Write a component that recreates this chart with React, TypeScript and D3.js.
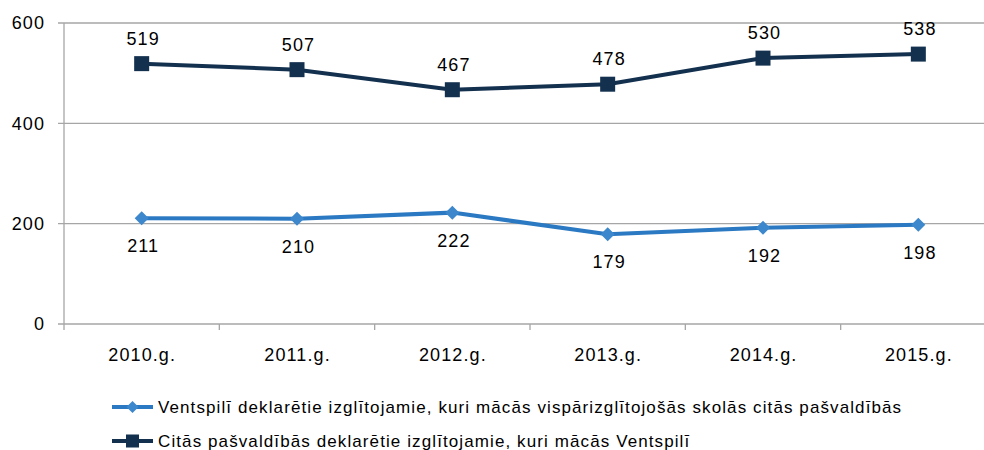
import React from "react";
import * as d3 from "d3";

const categories = ["2010.g.", "2011.g.", "2012.g.", "2013.g.", "2014.g.", "2015.g."];
const seriesNames = [
  "Ventspilī deklarētie izglītojamie, kuri mācās vispārizglītojošās skolās citās pašvaldībās",
  "Citās pašvaldībās deklarētie izglītojamie, kuri mācās Ventspilī",
];
const lightValues = [211, 210, 222, 179, 192, 198];
const darkValues = [519, 507, 467, 478, 530, 538];
const yTicks = [0, 200, 400, 600];

const W = 984;
const H = 450;
const LIGHT = "#2b79c2";
const LIGHT_MARK = "#3d87cd";
const DARK = "#13304f";
const GRID = "#a6a6a6";
const FONT = "Arial, 'Liberation Sans', sans-serif";
const LS = 1.1;

export default function App() {
  const left = 64;
  const right = 996;
  const x = d3.scaleBand<string>().domain(categories).range([left, right]);
  const y = d3.scaleLinear().domain([0, 600]).range([324, 23]);
  const cx = (c: string) => (x(c) as number) + x.bandwidth() / 2;
  const line = d3
    .line<number>()
    .x((_, i) => cx(categories[i]))
    .y((d) => y(d));

  const diamond = (px: number, py: number, r = 7) =>
    `M${px},${py - r}L${px + r},${py}L${px},${py + r}L${px - r},${py}Z`;

  return (
    <svg
      width={W}
      height={H}
      style={{ position: "absolute", left: 0, top: 0, background: "#fff", letterSpacing: `${LS}px` }}
      fontFamily={FONT}
    >
      {yTicks.map((t) => (
        <g key={t}>
          <line x1={left - 6} x2={right} y1={y(t)} y2={y(t)} stroke={GRID} strokeWidth={1.3} />
          <text
            x={left - 20 + LS}
            y={y(t)}
            dy="0.36em"
            textAnchor="end"
            fontSize={18}
            fill="#000"
          >
            {t}
          </text>
        </g>
      ))}
      <line x1={left} x2={left} y1={y(600)} y2={y(0)} stroke={GRID} strokeWidth={1.3} />
      {d3.range(categories.length + 1).map((i) => {
        const px = left + i * x.bandwidth();
        return <line key={i} x1={px} x2={px} y1={y(0)} y2={y(0) + 6} stroke={GRID} strokeWidth={1.3} />;
      })}
      {categories.map((c) => (
        <text key={c} x={cx(c) + LS / 2} y={y(0) + 37} textAnchor="middle" fontSize={18} fill="#000">
          {c}
        </text>
      ))}

      <path d={line(lightValues) || ""} fill="none" stroke={LIGHT} strokeWidth={4} />
      {lightValues.map((v, i) => (
        <g key={i}>
          <path d={diamond(cx(categories[i]), y(v))} fill={LIGHT_MARK} />
          <text x={cx(categories[i]) + 1.5} y={y(v) + 34} textAnchor="middle" fontSize={18} fill="#000">
            {v}
          </text>
        </g>
      ))}

      <path d={line(darkValues) || ""} fill="none" stroke={DARK} strokeWidth={4} />
      {darkValues.map((v, i) => (
        <g key={i}>
          <rect x={cx(categories[i]) - 7.5} y={y(v) - 7.5} width={15} height={15} fill={DARK} />
          <text x={cx(categories[i]) + 1.5} y={y(v) - 19} textAnchor="middle" fontSize={18} fill="#000">
            {v}
          </text>
        </g>
      ))}

      <g>
        <line x1={112} x2={153} y1={407} y2={407} stroke={LIGHT} strokeWidth={4} />
        <path d={diamond(132.5, 407, 6)} fill={LIGHT_MARK} />
        <text x={158} y={407} dy="0.36em" fontSize={17} fill="#000">
          {seriesNames[0]}
        </text>
        <line x1={112} x2={153} y1={441} y2={441} stroke={DARK} strokeWidth={4} />
        <rect x={126} y={434.5} width={13} height={13} fill={DARK} />
        <text x={158} y={441} dy="0.36em" fontSize={17} fill="#000">
          {seriesNames[1]}
        </text>
      </g>
    </svg>
  );
}
